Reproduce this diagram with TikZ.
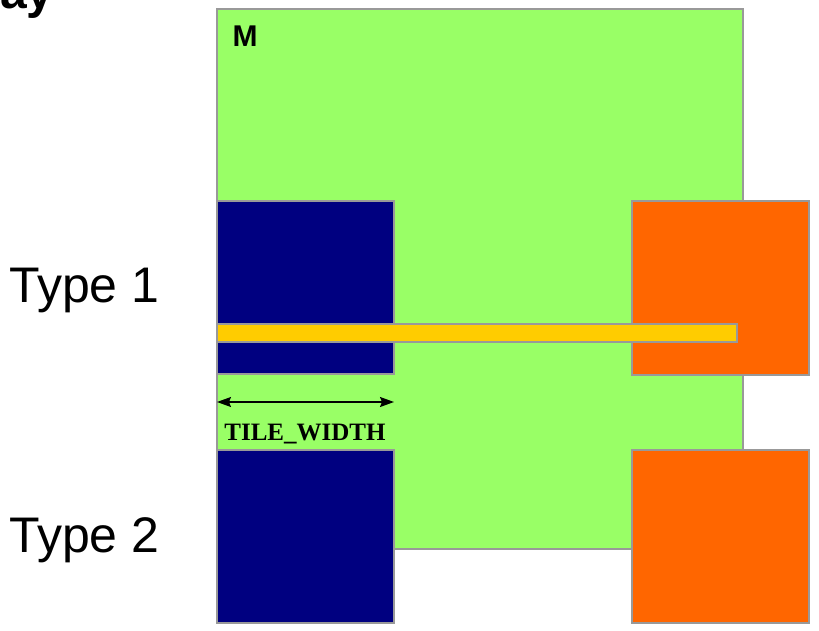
\documentclass[tikz,border=0pt]{standalone}
\usepackage{fontspec}
\setmainfont{Liberation Sans}
\newfontfamily\timesfont{Liberation Serif}
\usetikzlibrary{arrows.meta}
\definecolor{mgreen}{HTML}{99FF66}
\definecolor{tblue}{HTML}{000080}
\definecolor{torange}{HTML}{FF6600}
\definecolor{tyellow}{HTML}{FFCC00}
\definecolor{bgray}{HTML}{999999}
\tikzset{
  box/.style={draw=bgray, line width=1.5pt, inner sep=0pt, outer sep=0pt, anchor=north west},
  greenbox/.style={box, fill=mgreen},
  bluebox/.style={box, fill=tblue},
  orangebox/.style={box, fill=torange},
  barbox/.style={box, fill=tyellow},
  typelabel/.style={anchor=base west, inner sep=0pt, font=\fontsize{50}{50}\selectfont},
  dim/.style={line width=1.2pt, {Stealth[length=14pt,width=10pt,inset=2pt]}-{Stealth[length=14pt,width=10pt,inset=2pt]}}
}
\begin{document}
\begin{tikzpicture}[x=1pt,y=-1pt]
\useasboundingbox (0,0) rectangle (819,631);
\clip (0,0) rectangle (819,631);
\node[anchor=base west, inner sep=0pt, font=\bfseries\fontsize{48}{48}\selectfont] (title) at (0,9) {ay};
\node[greenbox, minimum width=526pt, minimum height=540pt] (M) at (217,9) {};
\node[anchor=base, inner sep=0pt, font=\bfseries\fontsize{30}{30}\selectfont] (mlabel) at (245,47) {M};
\node[bluebox, minimum width=177pt, minimum height=173pt] (b1) at (217,201) {};
\node[bluebox, minimum width=177pt, minimum height=173pt] (b2) at (217,450) {};
\node[orangebox, minimum width=177pt, minimum height=174pt] (o1) at (632,201) {};
\node[orangebox, minimum width=177pt, minimum height=173pt] (o2) at (632,450) {};
\node[barbox, minimum width=520pt, minimum height=18pt] (bar) at (217,324) {};
\coordinate (dl) at (217,402);
\coordinate (dr) at (394,402);
\draw[dim] (dl) -- (dr);
\node[anchor=base, inner sep=0pt, font=\timesfont\bfseries\fontsize{25}{25}\selectfont] (tw) at (305,440) {TILE\_WIDTH};
\node[typelabel] (t1) at (9,302) {Type 1};
\node[typelabel] (t2) at (9,552) {Type 2};
\end{tikzpicture}
\end{document}
